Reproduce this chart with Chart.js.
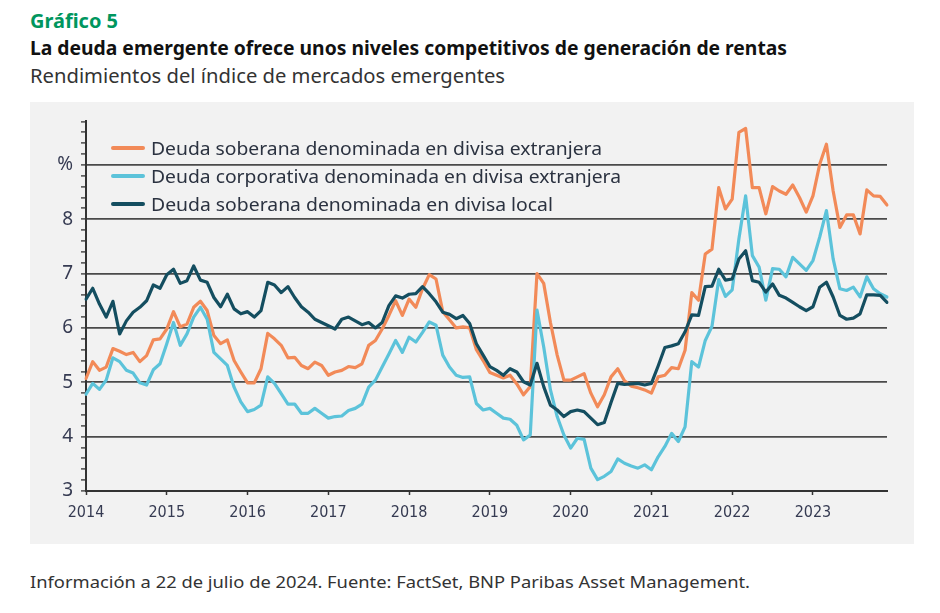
<!DOCTYPE html>
<html lang="es">
<head>
<meta charset="utf-8">
<title>Gráfico 5</title>
<script src="https://cdn.jsdelivr.net/npm/chart.js@4.4.1/dist/chart.umd.min.js"></script>
<style>
  html, body { margin: 0; padding: 0; background: #fff; }
  body { width: 940px; height: 613px; position: relative; overflow: hidden; font-family: "Noto Sans", sans-serif; }
  .txt { position: absolute; left: 30px; white-space: nowrap; transform-origin: left center; }
  #kicker { top: 8px; font-size: 19px; font-weight: 700; color: #00965e; }
  #title { top: 35px; font-size: 19px; font-weight: 700; color: #111; }
  #subtitle { top: 63px; font-size: 19px; color: #333; }
  #note { top: 571px; font-size: 16px; color: #333; }
  #panel { position: absolute; left: 30px; top: 102px; width: 884px; height: 442px; background: #f2f2f2; }
  #panel canvas { position: absolute; left: 0; top: 0; }
  #legend { position: absolute; left: 81px; top: 32px; }
  .item { position: absolute; left: 0; height: 28px; white-space: nowrap; display: flex; align-items: center; }
  .item span.sw { display: inline-block; width: 34px; height: 4px; border-radius: 2px; margin-right: 6px; flex: none; }
  .item span.lb { display: inline-block; font-size: 18px; color: #2b3240; transform-origin: left center; }
</style>
</head>
<body>
<div id="kicker" class="txt" data-w="88">Gráfico 5</div>
<div id="title" class="txt" data-w="757">La deuda emergente ofrece unos niveles competitivos de generación de rentas</div>
<div id="subtitle" class="txt" data-w="475">Rendimientos del índice de mercados emergentes</div>

<div id="panel">
  <canvas id="Chart" width="884" height="442"></canvas>
  <div id="legend"></div>
</div>

<div id="note" class="txt" data-w="720">Información a 22 de julio de 2024. Fuente: FactSet, BNP Paribas Asset Management.</div>

<script>
// monthly data, Jan 2014 .. Dec 2023
var years = ['2014', '2015', '2016', '2017', '2018', '2019', '2020', '2021', '2022', '2023'];

var soberanaExt = [
  5.07, 5.38, 5.22, 5.28, 5.62, 5.57, 5.51, 5.55, 5.38, 5.49, 5.78, 5.80,
  5.98, 6.30, 6.02, 6.07, 6.38, 6.49, 6.32, 5.86, 5.71, 5.78, 5.40, 5.19,
  4.99, 4.99, 5.25, 5.90, 5.80, 5.68, 5.45, 5.46, 5.31, 5.25, 5.37, 5.31,
  5.13, 5.19, 5.22, 5.29, 5.27, 5.34, 5.68, 5.77, 5.98, 6.23, 6.50, 6.23,
  6.53, 6.38, 6.72, 6.98, 6.90, 6.30, 6.15, 6.00, 6.02, 6.00, 5.60, 5.40,
  5.18, 5.13, 5.08, 5.13, 4.97, 4.77, 4.92, 7.00, 6.82, 6.10, 5.50, 5.04,
  5.04, 5.10, 5.16, 4.80, 4.55, 4.77, 5.10, 5.25, 5.03, 4.93, 4.90, 4.86,
  4.80, 5.10, 5.13, 5.27, 5.25, 5.59, 6.65, 6.51, 7.36, 7.45, 8.58, 8.19,
  8.37, 9.60, 9.67, 8.58, 8.58, 8.10, 8.60, 8.52, 8.46, 8.63, 8.40, 8.13,
  8.43, 9.01, 9.38, 8.52, 7.85, 8.08, 8.08, 7.73, 8.54, 8.43, 8.42, 8.26
];

var corporativaExt = [
  4.78, 4.98, 4.87, 5.04, 5.45, 5.38, 5.22, 5.17, 4.99, 4.95, 5.23, 5.34,
  5.71, 6.10, 5.68, 5.89, 6.20, 6.38, 6.16, 5.55, 5.43, 5.31, 4.91, 4.64,
  4.46, 4.50, 4.58, 5.10, 4.98, 4.79, 4.60, 4.60, 4.43, 4.43, 4.52, 4.43,
  4.34, 4.37, 4.38, 4.48, 4.52, 4.60, 4.91, 5.04, 5.28, 5.52, 5.77, 5.55,
  5.83, 5.74, 5.92, 6.11, 6.05, 5.50, 5.28, 5.13, 5.09, 5.10, 4.61, 4.49,
  4.52, 4.43, 4.34, 4.32, 4.21, 3.94, 4.03, 6.33, 5.65, 4.86, 4.37, 4.03,
  3.79, 3.97, 3.95, 3.42, 3.21, 3.27, 3.36, 3.59, 3.51, 3.46, 3.42, 3.48,
  3.39, 3.63, 3.82, 4.06, 3.91, 4.18, 5.38, 5.28, 5.77, 6.03, 6.89, 6.58,
  6.70, 7.64, 8.43, 7.33, 7.12, 6.51, 7.09, 7.08, 6.94, 7.30, 7.18, 7.06,
  7.24, 7.67, 8.16, 7.27, 6.72, 6.69, 6.75, 6.57, 6.94, 6.72, 6.63, 6.57
];

var soberanaLocal = [
  6.53, 6.73, 6.44, 6.20, 6.49, 5.89, 6.13, 6.29, 6.38, 6.50, 6.79, 6.73,
  6.98, 7.08, 6.82, 6.87, 7.14, 6.88, 6.84, 6.56, 6.39, 6.62, 6.35, 6.26,
  6.30, 6.20, 6.32, 6.84, 6.79, 6.65, 6.76, 6.56, 6.39, 6.29, 6.16, 6.10,
  6.04, 5.98, 6.16, 6.20, 6.13, 6.06, 6.10, 6.00, 6.10, 6.41, 6.59, 6.55,
  6.62, 6.63, 6.76, 6.63, 6.48, 6.29, 6.25, 6.17, 6.23, 6.08, 5.71, 5.50,
  5.29, 5.22, 5.13, 5.25, 5.19, 5.01, 4.95, 5.35, 4.92, 4.58, 4.49, 4.37,
  4.46, 4.49, 4.46, 4.34, 4.22, 4.26, 4.63, 4.98, 4.96, 4.97, 4.98, 4.95,
  4.98, 5.30, 5.64, 5.67, 5.71, 5.93, 6.24, 6.23, 6.76, 6.77, 7.08, 6.88,
  6.90, 7.27, 7.42, 6.87, 6.84, 6.66, 6.81, 6.60, 6.55, 6.47, 6.39, 6.32,
  6.39, 6.75, 6.84, 6.57, 6.23, 6.16, 6.18, 6.26, 6.61, 6.61, 6.60, 6.47
];

// legend label widths measured on the original
var legendWidths = [451, 470, 402];

var labels = [];
years.forEach(function(y) {
    for (var m = 1; m <= 12; m++) labels.push(y + '-' + (m < 10 ? '0' + m : m));
});

var Data = {
    labels: labels,
    datasets: [{
        label: 'Deuda soberana denominada en divisa extranjera',
        data: soberanaExt,
        borderColor: '#f28a58',
        order: 2
    }, {
        label: 'Deuda corporativa denominada en divisa extranjera',
        data: corporativaExt,
        borderColor: '#5cc3da',
        order: 1
    }, {
        label: 'Deuda soberana denominada en divisa local',
        data: soberanaLocal,
        borderColor: '#144e60',
        order: 0
    }]
};

function isInt(v) { return Math.abs(v - Math.round(v)) < 1e-6; }

var Options = {
    responsive: false,
    animation: false,
    layout: { padding: { top: 17, right: 27, left: 0, bottom: 0 } },
    elements: {
        line: { borderWidth: 3.2, tension: 0, borderCapStyle: 'round', borderJoinStyle: 'round' },
        point: { radius: 0 }
    },
    plugins: { legend: { display: false }, tooltip: { enabled: false } },
    scales: {
        x: {
            type: 'category',
            offset: false,
            afterFit: function(s) { s.height = 53; },
            border: { display: true, color: '#333', width: 2 },
            grid: {
                drawOnChartArea: false,
                drawTicks: true,
                tickLength: 4,
                tickWidth: 1.5,
                tickColor: function(c) { return c.index % 12 === 0 ? '#333' : 'rgba(0,0,0,0)'; }
            },
            ticks: {
                autoSkip: false,
                maxRotation: 0,
                padding: 8,
                color: '#363b52',
                font: { family: '"Liberation Sans Narrow", "DejaVu Sans Condensed", sans-serif', size: 16 },
                callback: function(v, i) { return i % 12 === 0 ? years[i / 12] : ''; }
            }
        },
        y: {
            min: 3,
            max: 9.8,
            afterFit: function(s) { s.width = 56; },
            border: { display: true, color: '#333', width: 2 },
            grid: {
                color: function(c) { var v = c.tick.value; return isInt(v) && v > 3.5 ? '#4a4a4a' : 'rgba(0,0,0,0)'; },
                lineWidth: 1.8,
                tickLength: 5,
                tickWidth: 1.3,
                tickColor: '#333'
            },
            ticks: {
                stepSize: 0.2,
                autoSkip: false,
                padding: 8,
                color: '#363b52',
                font: { family: '"Noto Sans", sans-serif', size: 19 },
                callback: function(v) {
                    if (!isInt(v)) return '';
                    var n = Math.round(v);
                    return n === 9 ? '%' : String(n);
                }
            }
        }
    }
};

var chart = new Chart(document.getElementById('Chart').getContext('2d'), {
    type: 'line',
    data: Data,
    options: Options
});

// legend inside the plot, built from the datasets
var legend = document.getElementById('legend');
Data.datasets.forEach(function(ds, i) {
    var row = document.createElement('div');
    row.className = 'item';
    row.style.top = (i * 28.2) + 'px';
    row.innerHTML = '<span class="sw" style="background:' + ds.borderColor + '"></span><span class="lb">' + ds.label + '</span>';
    legend.appendChild(row);
    var lb = row.querySelector('.lb');
    var w = lb.getBoundingClientRect().width;
    if (w > 0) lb.style.transform = 'scaleX(' + (legendWidths[i] / w).toFixed(4) + ')';
});

// squeeze the headline texts to the widths of the original
document.querySelectorAll('.txt').forEach(function(el) {
    var w = el.getBoundingClientRect().width;
    var t = parseFloat(el.getAttribute('data-w'));
    if (w > 0 && t) el.style.transform = 'scaleX(' + (t / w).toFixed(4) + ')';
});
</script>
</body>
</html>
